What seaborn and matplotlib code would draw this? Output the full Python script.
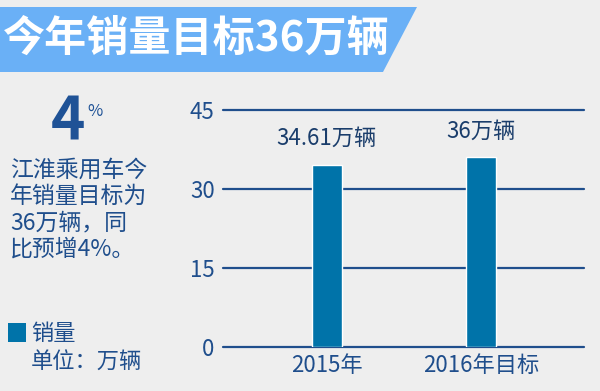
import matplotlib
matplotlib.use("Agg")
import matplotlib.pyplot as plt
import seaborn as sns
import pandas as pd
from matplotlib.patches import Polygon, Rectangle

categories = ["2015年", "2016年目标"]
values = [34.61, 36]
bar_labels = ["34.61万辆", "36万辆"]
y_ticks = [0, 15, 30, 45]
title = "今年销量目标36万辆"
big_number = "4"
desc_lines = ["江淮乘用车今", "年销量目标为", "36万辆，同", "比预增4%。"]
legend_label = "销量"
unit_label = "单位：万辆"

sns.set_theme(style="white")
plt.rcParams['font.family'] = ['Noto Sans CJK SC', 'DejaVu Sans']

BG = "#eeeeee"
NAVY = "#1f4e8c"
BAR = "#0073a9"

fig = plt.figure(figsize=(6, 3.91), dpi=100, facecolor=BG)
W, H = 600, 391

def fx(x):
    return x / W

def fy(y):
    return 1 - y / H

# title banner
banner = Polygon([(fx(0), fy(7)), (fx(417), fy(7)), (fx(383), fy(72)), (fx(0), fy(72))],
                 closed=True, transform=fig.transFigure, facecolor="#6ab0f6", edgecolor="none")
fig.patches.append(banner)
fig.text(fx(3), fy(39), title, color="white", fontsize=30.3, fontweight="bold",
         ha="left", va="center")

ax = fig.add_axes([fx(223), fy(347), fx(584) - fx(223), fy(110) - fy(347)])
ax.set_facecolor(BG)
df = pd.DataFrame({"cat": categories, "val": values})
sns.barplot(data=df, x="cat", y="val", color=BAR, saturation=1, width=0.195, ax=ax, zorder=3)
ax.set_xlim(-0.675, 1.67)
ax.set_ylim(0, 45)
ax.set_yticks(y_ticks)
ax.set_yticklabels([str(t) for t in y_ticks])
for t in y_ticks:
    ax.axhline(t, color=NAVY, lw=1.6, zorder=2, clip_on=False)
for s in ax.spines.values():
    s.set_visible(False)
ax.set_xlabel("")
ax.set_ylabel("")
ax.tick_params(axis="y", length=0, pad=6, labelsize=16, labelcolor=NAVY)
ax.tick_params(axis="x", length=0, pad=5, labelsize=16, labelcolor=NAVY)
for i, (v, lab) in enumerate(zip(values, bar_labels)):
    ax.annotate(lab, (i, v), xytext=(0, 19), textcoords="offset points",
                ha="center", va="center", fontsize=16, color="#1a3d6b")

# left panel
fig.text(fx(68), fy(122), big_number, color="#1f5296", fontsize=42, fontweight="bold",
         ha="center", va="center")
fig.text(fx(95), fy(111), "%", color="#1f5296", fontsize=12, ha="center", va="center")
for i, line in enumerate(desc_lines):
    fig.text(fx(10), fy(170 + i * 26.5), line, color=NAVY, fontsize=16.5,
             ha="left", va="center")

fig.patches.append(Rectangle((fx(8), fy(342)), fx(18), fy(323) - fy(342),
                             transform=fig.transFigure, facecolor=BAR, edgecolor="none"))
fig.text(fx(31), fy(334), legend_label, color=NAVY, fontsize=16, ha="left", va="center")
fig.text(fx(31), fy(362), unit_label, color=NAVY, fontsize=16, ha="left", va="center")

fig.savefig("out.png", dpi=100, facecolor=BG)
